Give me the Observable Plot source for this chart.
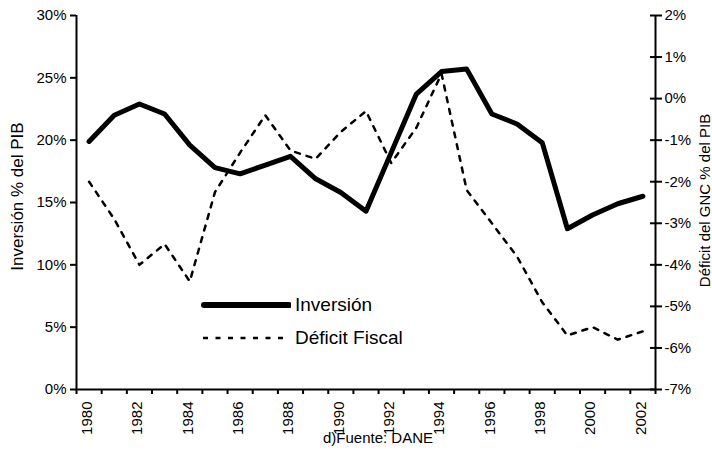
<!DOCTYPE html>
<html>
<head>
<meta charset="utf-8">
<script src="https://cdn.jsdelivr.net/npm/d3@7"></script>
<script src="https://cdn.jsdelivr.net/npm/@observablehq/plot@0.6"></script>
<style>
  html, body { margin: 0; padding: 0; background: #fff; }
  #wrap { position: relative; width: 712px; height: 454px; font-family: "Liberation Sans", Arial, sans-serif; }
  .lg { position: absolute; display: flex; align-items: center; height: 24px; font-size: 19px; color: #000; }
  .lg svg { display: block; margin-right: 4px; }
</style>
</head>
<body>
<div id="wrap"></div>
<script>
// ---- data ----
const years = [1980, 1981, 1982, 1983, 1984, 1985, 1986, 1987, 1988, 1989, 1990, 1991,
               1992, 1993, 1994, 1995, 1996, 1997, 1998, 1999, 2000, 2001, 2002];
const inversion = [19.9, 22.0, 22.9, 22.1, 19.6, 17.8, 17.3, 18.0, 18.7, 16.9, 15.8, 14.3,
                   19.0, 23.7, 25.5, 25.7, 22.1, 21.3, 19.8, 12.9, 14.0, 14.9, 15.5];
const deficit = [-2.0, -2.9, -4.0, -3.5, -4.4, -2.25, -1.3, -0.4, -1.25, -1.45, -0.8, -0.3,
                 -1.55, -0.7, 0.6, -2.2, -3.0, -3.8, -4.9, -5.7, -5.5, -5.8, -5.6];
const leftTicks = [0, 5, 10, 15, 20, 25, 30];
const rightTicks = [-7, -6, -5, -4, -3, -2, -1, 0, 1, 2];
const yearLabels = [1980, 1982, 1984, 1986, 1988, 1990, 1992, 1994, 1996, 1998, 2000, 2002];
const seriesNames = ["Inversión", "Déficit Fiscal"];
const leftTitle = "Inversión % del PIB";
const rightTitle = "Déficit del GNC % del PIB";
const caption = "d)Fuente: DANE";

// ---- mapping of right axis onto left scale ----
const L0 = leftTicks[0], L1 = leftTicks[leftTicks.length - 1];
const R0 = rightTicks[0], R1 = rightTicks[rightTicks.length - 1];
const toLeft = v => L0 + (v - R0) * (L1 - L0) / (R1 - R0);
const fromLeft = t => R0 + (t - L0) * (R1 - R0) / (L1 - L0);

const rows = years.map((y, i) => ({year: y, inv: inversion[i], def: deficit[i]}));
const xDomain = [years[0] - 0.5, years[years.length - 1] + 0.5];
const boundaries = [...years.map(y => y - 0.5), years[years.length - 1] + 0.5];

const chart = Plot.plot({
  width: 712,
  height: 454,
  marginLeft: 76,
  marginRight: 57,
  marginTop: 15,
  marginBottom: 65,
  style: {fontFamily: "'Liberation Sans', Arial, sans-serif", fontSize: "15px", color: "#000", background: "#fff", overflow: "visible"},
  x: {domain: xDomain},
  y: {domain: [L0, L1]},
  marks: [
    Plot.axisY({ticks: leftTicks, tickFormat: d => d + "%", tickSize: 6, tickPadding: 4, strokeWidth: 2, label: null, fontSize: 15}),
    Plot.axisY({anchor: "right", ticks: rightTicks.map(toLeft), tickFormat: t => Math.round(fromLeft(t)) + "%", tickSize: 6, tickPadding: 3, strokeWidth: 2, label: null, fontSize: 15}),
    Plot.axisY({anchor: "right", ticks: rightTicks.map(toLeft), tickSize: -6, text: null, strokeWidth: 2, label: null}),
    Plot.axisX({ticks: boundaries, tickSize: 5, text: null, strokeWidth: 2, label: null}),
    Plot.axisX({ticks: yearLabels, tickSize: 0, tickRotate: -90, tickPadding: 12, tickFormat: d => String(d), fontSize: 15, dx: -2, label: null}),
    Plot.ruleX(xDomain, {stroke: "#000", strokeWidth: 2}),
    Plot.ruleY([L0], {stroke: "#000", strokeWidth: 2}),
    Plot.line(rows, {x: "year", y: d => toLeft(d.def), stroke: "#000", strokeWidth: 2.5, strokeDasharray: "5,7"}),
    Plot.line(rows, {x: "year", y: "inv", stroke: "#000", strokeWidth: 5, strokeLinejoin: "round"}),
    Plot.text([leftTitle], {frameAnchor: "left", textAnchor: "middle", dx: -59, dy: -6, rotate: -90, fontSize: 17}),
    Plot.text([rightTitle], {frameAnchor: "right", textAnchor: "middle", dx: 50, dy: -2, rotate: -90, fontSize: 15}),
    Plot.text([caption], {frameAnchor: "bottom", dy: 53, dx: 12, fontSize: 15})
  ]
});

const wrap = document.getElementById("wrap");
wrap.appendChild(chart);

// ---- legend overlay ----
function legendRow(name, top, dashed) {
  const row = document.createElement("div");
  row.className = "lg";
  row.style.left = "199px";
  row.style.top = top + "px";
  const ns = "http://www.w3.org/2000/svg";
  const svg = document.createElementNS(ns, "svg");
  svg.setAttribute("width", "92");
  svg.setAttribute("height", "24");
  const ln = document.createElementNS(ns, "line");
  ln.setAttribute("x1", dashed ? "4" : "5");
  ln.setAttribute("x2", "90");
  ln.setAttribute("y1", "12");
  ln.setAttribute("y2", "12");
  ln.setAttribute("stroke", "#000");
  ln.setAttribute("stroke-width", dashed ? "2.5" : "6");
  if (dashed) ln.setAttribute("stroke-dasharray", "5,7.5");
  else ln.setAttribute("stroke-linecap", "round");
  svg.appendChild(ln);
  row.appendChild(svg);
  const sp = document.createElement("span");
  sp.textContent = name;
  row.appendChild(sp);
  wrap.appendChild(row);
}
legendRow(seriesNames[0], 293, false);
legendRow(seriesNames[1], 326, true);
</script>
</body>
</html>
